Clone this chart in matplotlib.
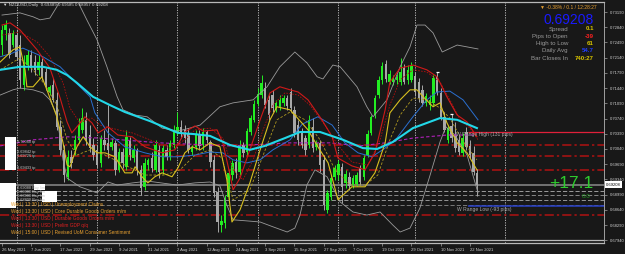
import numpy as np
import matplotlib.pyplot as plt
import matplotlib.patches as mpatches

plt.rcParams['font.family'] = ['Liberation Sans', 'DejaVu Sans']

# daily candles NZDUSD, 26 May 2021 .. 24 Nov 2021
opens = [0.7243, 0.7278, 0.7271, 0.7243, 0.7266, 0.7243, 0.7151, 0.7197, 0.7220, 0.7204,
         0.7186, 0.7204, 0.7181, 0.7135, 0.7151, 0.7117, 0.7055, 0.7002, 0.6940, 0.6986,
         0.7002, 0.7025, 0.7048, 0.7071, 0.7036, 0.7013, 0.7002, 0.6972, 0.7025, 0.7018,
         0.7009, 0.7018, 0.6956, 0.6997, 0.6963, 0.7025, 0.6983, 0.7002, 0.6956, 0.6917,
         0.6967, 0.6983, 0.6956, 0.7002, 0.6956, 0.7002, 0.6986, 0.7013, 0.7043, 0.7055,
         0.7048, 0.7041, 0.6997, 0.7009, 0.7036, 0.7013, 0.7043, 0.7020, 0.6979, 0.6905,
         0.6829, 0.6834, 0.6894, 0.6944, 0.6974, 0.6951, 0.7013, 0.6997, 0.7043, 0.7071,
         0.7107, 0.7128, 0.7144, 0.7117, 0.7128, 0.7094, 0.7098, 0.7110, 0.7121, 0.7135,
         0.7094, 0.7059, 0.7043, 0.7029, 0.7013, 0.7055, 0.7009, 0.7018, 0.6979, 0.6864,
         0.6894, 0.6940, 0.6944, 0.6963, 0.6926, 0.6940, 0.6921, 0.6923, 0.6960, 0.6940,
         0.6990, 0.7041, 0.7082, 0.7128, 0.7163, 0.7199, 0.7158, 0.7158, 0.7163, 0.7158,
         0.7190, 0.7163, 0.7163, 0.7172, 0.7158, 0.7140, 0.7110, 0.7105, 0.7110, 0.7172,
         0.7133, 0.7078, 0.7025, 0.7057, 0.7036, 0.7025, 0.6995, 0.7043, 0.7011, 0.6995,
         0.69489]
highs = [0.7289, 0.7301, 0.7282, 0.7278, 0.7278, 0.7266, 0.7220, 0.7232, 0.7232, 0.7220,
         0.7220, 0.7213, 0.7190, 0.7151, 0.7167, 0.7135, 0.7071, 0.7013, 0.7002, 0.7002,
         0.7036, 0.7075, 0.7098, 0.7089, 0.7059, 0.7029, 0.7013, 0.7036, 0.7048, 0.7105,
         0.7029, 0.7025, 0.7006, 0.7006, 0.7048, 0.7032, 0.7013, 0.7006, 0.6967, 0.6983,
         0.6983, 0.6997, 0.7025, 0.7013, 0.7013, 0.7013, 0.7025, 0.7059, 0.7089, 0.7071,
         0.7059, 0.7052, 0.7013, 0.7048, 0.7048, 0.7052, 0.7048, 0.7025, 0.6990, 0.6917,
         0.6852, 0.6898, 0.6956, 0.6979, 0.6983, 0.7025, 0.7020, 0.7052, 0.7082, 0.7117,
         0.7144, 0.7174, 0.7158, 0.7128, 0.7140, 0.7117, 0.7128, 0.7128, 0.7128, 0.7144,
         0.7103, 0.7071, 0.7052, 0.7036, 0.7082, 0.7075, 0.7025, 0.7025, 0.6990, 0.6910,
         0.6944, 0.6967, 0.6979, 0.6972, 0.6956, 0.6951, 0.6944, 0.6951, 0.6967, 0.6990,
         0.7048, 0.7082, 0.7128, 0.7172, 0.7204, 0.7209, 0.7186, 0.7174, 0.7176, 0.7213,
         0.7199, 0.7197, 0.7204, 0.7181, 0.7167, 0.7151, 0.7133, 0.7128, 0.7174, 0.7181,
         0.7144, 0.7089, 0.7057, 0.7084, 0.7066, 0.7036, 0.7041, 0.7055, 0.7025, 0.7011,
         0.69585]
lows = [0.7220, 0.7255, 0.7213, 0.7239, 0.7209, 0.7144, 0.7140, 0.7186, 0.7181, 0.7174,
        0.7174, 0.7163, 0.7140, 0.7128, 0.7112, 0.7048, 0.6990, 0.6928, 0.6933, 0.6960,
        0.6990, 0.7018, 0.7041, 0.7013, 0.6997, 0.6979, 0.6960, 0.6963, 0.7002, 0.6983,
        0.7002, 0.6944, 0.6951, 0.6960, 0.6956, 0.6979, 0.6974, 0.6944, 0.6898, 0.6910,
        0.6956, 0.6951, 0.6951, 0.6937, 0.6946, 0.6979, 0.6979, 0.7006, 0.7036, 0.7029,
        0.7018, 0.6995, 0.6990, 0.7002, 0.7002, 0.7002, 0.7018, 0.6963, 0.6894, 0.6813,
        0.6813, 0.6822, 0.6887, 0.6933, 0.6937, 0.6944, 0.6986, 0.6990, 0.7036, 0.7066,
        0.7103, 0.7121, 0.7098, 0.7071, 0.7089, 0.7089, 0.7094, 0.7103, 0.7094, 0.7089,
        0.7032, 0.7013, 0.7006, 0.6990, 0.7006, 0.6997, 0.7002, 0.6951, 0.6864, 0.6857,
        0.6887, 0.6933, 0.6933, 0.6880, 0.6914, 0.6910, 0.6914, 0.6919, 0.6921, 0.6933,
        0.6986, 0.7036, 0.7075, 0.7121, 0.7153, 0.7158, 0.7153, 0.7151, 0.7153, 0.7151,
        0.7153, 0.7153, 0.7158, 0.7126, 0.7112, 0.7103, 0.7103, 0.7094, 0.7103, 0.7128,
        0.7071, 0.7043, 0.7018, 0.7020, 0.6997, 0.6990, 0.6988, 0.7002, 0.6983, 0.6944,
        0.68957]
closes = [0.7278, 0.7289, 0.7220, 0.7271, 0.7216, 0.7163, 0.7197, 0.7220, 0.7190, 0.7186,
          0.7204, 0.7170, 0.7147, 0.7147, 0.7117, 0.7055, 0.7002, 0.6944, 0.6986, 0.6972,
          0.7025, 0.7059, 0.7075, 0.7025, 0.7006, 0.6990, 0.6967, 0.7029, 0.7013, 0.7002,
          0.7020, 0.6956, 0.6997, 0.6972, 0.7032, 0.6990, 0.7002, 0.6956, 0.6914, 0.6972,
          0.6979, 0.6960, 0.7013, 0.6951, 0.7006, 0.6986, 0.7018, 0.7048, 0.7055, 0.7043,
          0.7029, 0.7002, 0.7009, 0.7036, 0.7011, 0.7043, 0.7025, 0.6974, 0.6903, 0.6836,
          0.6838, 0.6891, 0.6949, 0.6972, 0.6949, 0.7013, 0.6995, 0.7045, 0.7075, 0.7107,
          0.7130, 0.7156, 0.7105, 0.7082, 0.7098, 0.7110, 0.7117, 0.7121, 0.7103, 0.7098,
          0.7041, 0.7025, 0.7013, 0.7002, 0.7071, 0.7006, 0.7018, 0.6967, 0.6875, 0.6903,
          0.6937, 0.6960, 0.6969, 0.6917, 0.6946, 0.6919, 0.6937, 0.6944, 0.6928, 0.6983,
          0.7038, 0.7078, 0.7121, 0.7163, 0.7195, 0.7165, 0.7176, 0.7167, 0.7170, 0.7181,
          0.7158, 0.7186, 0.7195, 0.7135, 0.7121, 0.7110, 0.7126, 0.7117, 0.7167, 0.7135,
          0.7078, 0.7048, 0.7052, 0.7029, 0.7006, 0.6997, 0.7029, 0.7009, 0.6990, 0.6950,
          0.69208]

date_idx = [0, 8, 16, 24, 32, 40, 48, 56, 64, 72, 80, 88, 96, 104, 112, 120, 128]
date_labels = ['26 May 2021', '7 Jun 2021', '17 Jun 2021', '29 Jun 2021', '9 Jul 2021',
               '21 Jul 2021', '2 Aug 2021', '12 Aug 2021', '24 Aug 2021', '3 Sep 2021',
               '15 Sep 2021', '27 Sep 2021', '7 Oct 2021', '19 Oct 2021', '29 Oct 2021',
               '10 Nov 2021', '22 Nov 2021']
month_sep_idx = [4, 26, 48, 70, 92, 113, 137.5]

price_ticks = [0.7319, 0.7284, 0.7249, 0.7214, 0.7179, 0.7144, 0.7109, 0.7074,
               0.7039, 0.7004, 0.6969, 0.6934, 0.6899, 0.6864, 0.6829, 0.6794]

# indicator lines, sampled along the chart (bar index, price)
bb_up_x = [0.0, 4.9, 8.5, 10.4, 13.1, 15.0, 16.4, 18.1, 20.5, 23.2, 26.0, 28.7, 31.5, 33.1,
           36.4, 39.7, 43.8, 48.1, 51.4, 54.2, 59.6, 63.2, 68.7, 72.5, 76.0, 80.1, 83.4,
           86.2, 87.8, 90.5, 92.5, 97.1, 99.8, 101.5, 105.3, 108.9, 111.6, 113.5, 115.7,
           117.9, 120.4, 124.5, 130.2]
bb_up_y = [0.7312, 0.7317, 0.7308, 0.7301, 0.7305, 0.7331, 0.7358, 0.7381, 0.7347, 0.7301,
           0.7255, 0.7193, 0.7124, 0.7094, 0.7082, 0.7078, 0.7052, 0.7045, 0.7052, 0.7059,
           0.7101, 0.7110, 0.7117, 0.7147, 0.7193, 0.7227, 0.7202, 0.7170, 0.7165, 0.7197,
           0.7193, 0.7147, 0.7101, 0.7078, 0.7117, 0.7193, 0.7239, 0.7289, 0.7289, 0.7271,
           0.7227, 0.7243, 0.7234]
bb_lo_x = [-0.5, 3.0, 4.9, 8.5, 11.2, 13.1, 15.0, 16.7, 17.8, 21.3, 26.0, 29.0, 31.5, 35.8,
           39.9, 47.9, 52.8, 56.9, 59.6, 61.5, 63.2, 67.8, 70.6, 74.1, 78.0, 80.1, 81.5,
           83.4, 85.6, 88.9, 92.5, 96.0, 99.8, 103.4, 106.9, 108.9, 111.6, 114.3, 117.1,
           119.8, 121.4, 123.9, 127.2, 130.2]
bb_lo_y = [0.7128, 0.7140, 0.7144, 0.7140, 0.7133, 0.7117, 0.7082, 0.6979, 0.6937, 0.6917,
           0.6903, 0.6928, 0.6921, 0.6926, 0.6930, 0.6921, 0.6926, 0.6928, 0.6919, 0.6875,
           0.6841, 0.6838, 0.6836, 0.6825, 0.6813, 0.6822, 0.6852, 0.6921, 0.6956, 0.6940,
           0.6882, 0.6859, 0.6852, 0.6859, 0.6829, 0.6813, 0.6822, 0.6868, 0.6944, 0.7020,
           0.7055, 0.7036, 0.6990, 0.6903]
cyan_x = [-0.5, 4.9, 11.2, 15.0, 17.8, 20.5, 24.9, 29.5, 33.6, 40.5, 48.1, 52.8, 56.9, 62.4,
          67.8, 71.9, 77.4, 81.5, 87.0, 93.3, 98.7, 102.6, 106.9, 112.4, 119.8, 124.5, 129.9]
cyan_y = [0.7186, 0.7193, 0.7193, 0.7186, 0.7174, 0.7156, 0.7124, 0.7105, 0.7089, 0.7068,
          0.7041, 0.7038, 0.7034, 0.7013, 0.7002, 0.7011, 0.7029, 0.7043, 0.7043, 0.7025,
          0.7006, 0.7004, 0.7020, 0.7052, 0.7075, 0.7071, 0.7052]
blue_x = [-0.5, 3.0, 5.7, 11.2, 15.9, 19.4, 24.1, 25.4, 29.0, 33.6, 39.1, 43.8, 48.1, 52.8,
          56.9, 60.4, 63.2, 67.0, 70.6, 74.1, 78.8, 82.1, 86.4, 90.3, 93.8, 97.4, 101.2,
          104.8, 108.0, 112.4, 116.2, 119.0, 122.5, 126.1, 130.2]
blue_y = [0.7216, 0.7225, 0.7236, 0.7216, 0.7193, 0.7163, 0.7124, 0.7087, 0.7041, 0.7009,
          0.6995, 0.6986, 0.6986, 0.6990, 0.6997, 0.6995, 0.6979, 0.6972, 0.6979, 0.7002,
          0.7025, 0.7061, 0.7078, 0.7059, 0.7018, 0.6995, 0.6986, 0.7006, 0.7029, 0.7078,
          0.7117, 0.7135, 0.7137, 0.7117, 0.7071]
red_x = [0.0, 2.2, 4.9, 9.6, 13.1, 15.9, 17.8, 19.1, 20.5, 22.7, 24.6, 26.3, 29.0, 31.7,
         35.6, 39.1, 43.8, 47.3, 50.0, 52.8, 55.0, 58.8, 60.4, 62.4, 63.2, 65.1, 67.8,
         70.6, 73.3, 76.0, 78.8, 81.0, 83.7, 87.5, 90.3, 91.9, 95.7, 99.3, 102.0, 104.8,
         106.1, 108.9, 112.4, 116.2, 119.0, 121.7, 124.5, 127.2, 129.9]
red_y = [0.7289, 0.7294, 0.7278, 0.7232, 0.7190, 0.7121, 0.7066, 0.7041, 0.7055, 0.7078,
         0.7064, 0.7041, 0.7055, 0.7036, 0.7032, 0.7009, 0.6995, 0.7002, 0.7043, 0.7057,
         0.7045, 0.7048, 0.7018, 0.6944, 0.6910, 0.6937, 0.7002, 0.7071, 0.7133, 0.7147,
         0.7140, 0.7135, 0.7117, 0.7071, 0.7032, 0.6983, 0.6965, 0.6956, 0.6995, 0.7094,
         0.7158, 0.7190, 0.7197, 0.7186, 0.7170, 0.7124, 0.7082, 0.7066, 0.7032]
red2_x = [0.0, 4.9, 9.6, 13.1, 16.7, 18.6, 21.3, 24.6, 26.8, 31.7, 35.6, 40.5, 46.0, 50.0,
          52.8, 56.9, 60.4, 63.2, 65.9, 68.7, 71.4, 74.1, 77.4, 81.0, 84.2, 88.3, 91.9,
          95.7, 100.1, 103.4, 106.1, 108.9, 112.4, 116.2, 119.8, 122.5, 125.3, 128.0, 130.2]
red2_y = [0.7266, 0.7273, 0.7250, 0.7216, 0.7156, 0.7098, 0.7064, 0.7075, 0.7059, 0.7048,
          0.7041, 0.7025, 0.7006, 0.7025, 0.7048, 0.7052, 0.7029, 0.6956, 0.6933, 0.6979,
          0.7048, 0.7105, 0.7133, 0.7128, 0.7105, 0.7059, 0.7013, 0.6974, 0.6967, 0.7025,
          0.7105, 0.7163, 0.7186, 0.7181, 0.7158, 0.7117, 0.7071, 0.7052, 0.7025]
yel_x = [-0.5, 3.0, 4.9, 6.3, 6.8, 8.5, 10.9, 12.6, 15.0, 16.7, 17.8, 18.6, 20.5, 22.2,
         24.1, 26.0, 28.2, 30.9, 33.6, 35.6, 36.4, 38.3, 39.9, 41.8, 43.8, 46.5, 48.1,
         50.0, 52.0, 54.2, 56.9, 59.6, 61.5, 62.9, 65.1, 67.8, 70.6, 73.3, 75.2, 78.8,
         83.7, 86.4, 89.2, 91.9, 95.7, 99.3, 102.0, 104.8, 106.1, 108.9, 111.6, 113.5,
         115.2, 117.9, 119.8, 121.7, 124.5, 127.2, 129.9]
yel_y = [0.7204, 0.7232, 0.7239, 0.7186, 0.7147, 0.7147, 0.7170, 0.7133, 0.7078, 0.7018,
         0.6967, 0.6963, 0.7009, 0.7032, 0.7009, 0.6995, 0.6995, 0.6986, 0.6949, 0.6949,
         0.6963, 0.6940, 0.6926, 0.6940, 0.6949, 0.6940, 0.6960, 0.6995, 0.7009, 0.7002,
         0.7018, 0.7009, 0.6933, 0.6836, 0.6864, 0.6926, 0.7002, 0.7071, 0.7101, 0.7094,
         0.7048, 0.7009, 0.6972, 0.6887, 0.6917, 0.6917, 0.6949, 0.7018, 0.7087, 0.7117,
         0.7140, 0.7140, 0.7124, 0.7101, 0.7110, 0.7064, 0.7018, 0.6995, 0.6956]
yel2_x = [-0.5, 4.9, 8.5, 11.8, 15.0, 17.8, 20.5, 24.1, 28.2, 33.6, 39.1, 44.6, 48.7, 52.8,
          56.9, 60.2, 63.2, 67.8, 72.5, 75.2, 78.8, 82.9, 87.0, 91.1, 95.2, 99.3, 102.8,
          106.1, 108.9, 112.4, 116.2, 119.8, 122.5, 125.8, 129.9]
yel2_y = [0.7186, 0.7213, 0.7186, 0.7151, 0.7105, 0.7025, 0.6990, 0.7002, 0.6990, 0.6967,
          0.6944, 0.6944, 0.6956, 0.6990, 0.7002, 0.6983, 0.6887, 0.6910, 0.7013, 0.7071,
          0.7089, 0.7071, 0.7025, 0.6956, 0.6921, 0.6921, 0.6944, 0.7025, 0.7082, 0.7121,
          0.7117, 0.7098, 0.7075, 0.7025, 0.6979]
mag_x = [-0.5, 8.5, 17.8, 26.8, 43.2, 62.4, 78.8, 89.7, 97.9, 104.8, 112.4, 121.7, 129.4]
mag_y = [0.7011, 0.7025, 0.7032, 0.7029, 0.7018, 0.7011, 0.7018, 0.7018, 0.7011, 0.7018,
         0.7029, 0.7036, 0.7036]

# horizontal levels
red_levels = [0.7013, 0.6988, 0.6956, 0.6852]
grey_levels = [0.6907, 0.6897, 0.6887, 0.6875]
last_price = 0.69208
range_high = 0.7044
range_low = 0.6872
range_start = 127.5

news_rows = ['Wed | 13:30 | USD | Unemployment Claims',
             'Wed | 13:30 | USD | Core Durable Goods Orders m/m',
             'Wed | 13:30 | USD | Durable Goods Orders m/m',
             'Wed | 13:30 | USD | Prelim GDP q/q',
             'Wed | 15:00 | USD | Revised UoM Consumer Sentiment']
news_colors = ['#e8a030', '#e8a030', '#e02020', '#e02020', '#e8a030']

info_labels = ['Spread', 'Pips to Open', 'High to Low', 'Daily Avg', 'Bar Closes In']
info_values = ['0.1', '-39', '61', '54.7', '740:27']
info_colors = ['#d8c400', '#ff2020', '#d8c400', '#2040ff', '#d8c400']

W, H = 625, 254
BG = '#181818'


def fx(px):
    return px / W


def fy(py):
    return 1 - py / H


fig = plt.figure(figsize=(W / 100, H / 100), dpi=100, facecolor=BG)
ax = fig.add_axes([0, fy(243), 604 / W, 241 / H], facecolor=BG)
ax.set_xlim(-0.547, 164.66)
ax.set_ylim(0.67877, 0.7342)

ax.spines['left'].set_visible(False)
for s in ['top', 'bottom']:
    ax.spines[s].set_color('#b8b8b8')
    ax.spines[s].set_linewidth(0.9)
ax.spines['right'].set_color('#a0a0a0')
ax.spines['right'].set_linewidth(0.7)

ax.yaxis.tick_right()
ax.set_yticks(price_ticks)
ax.set_yticklabels(['%.5f' % p for p in price_ticks])
ax.tick_params(axis='y', colors='#a0a0a0', labelcolor='#d0d0d0', labelsize=3,
               length=2, width=0.5, pad=2)
ax.set_xticks(date_idx)
ax.set_xticklabels(date_labels)
for t in ax.get_xticklabels():
    t.set_horizontalalignment('left')
ax.tick_params(axis='x', colors='#a0a0a0', labelcolor='#d0d0d0', labelsize=3,
               length=2, width=0.5, pad=1.5)

# month separators
for xs in month_sep_idx:
    ax.axvline(xs, color='#c8c8c8', lw=0.6, ls=(0, (1.5, 1.5)), zorder=1)

# horizontal lines
for lv in red_levels:
    ax.axhline(lv, color='#b01212', lw=1.1, ls=(0, (6, 2, 1.5, 2)), zorder=1)
for k, lv in enumerate(grey_levels):
    ax.axhline(lv, color=['#b0b0b0', '#989898', '#a8a8a8', '#888888'][k], lw=0.6,
               ls=(0, (5, 2.5)), zorder=1)
ax.axhline(last_price, color='#7a7a7a', lw=1.3, zorder=1)
ax.axhline(0.6795, color='#b8b8b8', lw=0.9, zorder=1)
ax.hlines(range_high, range_start, 164.66, color='#e0203a', lw=0.9, zorder=1)
ax.hlines(range_low, range_start, 164.66, color='#2840c8', lw=1.1, zorder=1)

# candles
o = np.array(opens)
h = np.array(highs)
l = np.array(lows)
c = np.array(closes)
x = np.arange(len(c))
up = c >= o
bull, bear = '#22ee22', '#a8a8a8'
ax.vlines(x[up], l[up], h[up], color=bull, lw=0.7, zorder=2)
ax.vlines(x[~up], l[~up], h[~up], color=bear, lw=0.7, zorder=2)
ax.bar(x, np.maximum(np.abs(c - o), 0.00006), bottom=np.minimum(o, c), width=0.66,
       color=np.where(up, bull, bear), lw=0, zorder=2)

# indicators
ax.plot(bb_up_x, bb_up_y, color='#9a9a9a', lw=0.6, zorder=3)
ax.plot(bb_lo_x, bb_lo_y, color='#9a9a9a', lw=0.6, zorder=3)
ax.plot(mag_x, mag_y, color='#b020b8', lw=0.8, ls=(0, (3, 2)), zorder=3)
ax.plot(yel2_x, yel2_y, color='#b09a20', lw=0.6, ls=(0, (3, 2)), zorder=3)
ax.plot(red2_x, red2_y, color='#b01010', lw=0.6, ls=(0, (2, 1.5)), zorder=3)
ax.plot(blue_x, blue_y, color='#2a6fd0', lw=0.7, zorder=3)
ax.plot(red_x, red_y, color='#d01818', lw=0.8, zorder=3)
ax.plot(yel_x, yel_y, color='#d8c020', lw=0.8, zorder=3)
ax.plot(cyan_x, cyan_y, color='#22d8e8', lw=1.5, zorder=3)

# fractal marks on two highs
ax.hlines([highs[119], highs[123]], [118.6, 122.6], [119.4, 123.4], color='white',
          lw=0.9, zorder=4)

# title
fig.text(fx(3), fy(5), '\u25bc NZDUSD,Daily  0.69489 0.69585 0.68957 0.69208',
         color='#d8d8d8', fontsize=3.2, va='center')

# info panel top right
fig.text(fx(597), fy(7), '\u25bc -0.38% / 0.1 / 12:28:27', color='#e8a030',
         fontsize=3.6, va='center', ha='right')
fig.text(fx(594), fy(20), '0.69208', color='#1a1aff', fontsize=10, va='center',
         ha='right')
for k, (lab, val, col) in enumerate(zip(info_labels, info_values, info_colors)):
    yy = 29 + k * 7.3
    fig.text(fx(568), fy(yy), lab, color='#9a9a9a', fontsize=4.4, va='center', ha='right')
    fig.text(fx(594), fy(yy), val, color=col, fontsize=4.4, va='center', ha='right',
             fontweight='bold')

# pips info
fig.text(fx(593), fy(183.5), '+17.1', color='#2ecc2e', fontsize=12.5, va='center',
         ha='right')
fig.text(fx(590), fy(196.5), '0.0', color='#1f9a1f', fontsize=4.5, va='center',
         ha='right')

# range labels
fig.text(fx(456), fy(134.5), 'W Range High (131 pips)', color='#a8a8a8', fontsize=3.6,
         va='center')
fig.text(fx(457), fy(210), 'W Range Low (-93 pips)', color='#a8a8a8', fontsize=3.6,
         va='center')

# last price box on the axis
fig.text(fx(606), fy(184.5), '%.5f' % last_price, color='black', fontsize=3,
         va='center', bbox=dict(facecolor='white', edgecolor='none', pad=0.9))

# left side order boxes
for (x0, y0, x1, y1) in [(5, 137, 16, 170), (0, 183, 16, 208), (34, 184, 45, 190),
                         (42, 191, 57, 202)]:
    fig.add_artist(mpatches.Rectangle((fx(x0), fy(y1)), (x1 - x0) / W, (y1 - y0) / H,
                                      transform=fig.transFigure, facecolor='white',
                                      edgecolor='none', zorder=5))
for yy, t in zip([142, 152, 156, 168], ['0.70068 tp', '0.69842 tp', '0.69726 tp',
                                        '0.69433 tp']):
    fig.text(fx(17), fy(yy), t, color='#c8c8c8', fontsize=2.8, va='center', zorder=6)
for yy, t in zip([188, 192, 196, 200], ['0.69088 Buy lim', '0.69000 Buy lim',
                                        '0.68900 Buy lim', '0.68800 Buy lim']):
    fig.text(fx(17), fy(yy), t, color='#c8c8c8', fontsize=2.8, va='center', zorder=6)

# news rows
for k, (row, col) in enumerate(zip(news_rows, news_colors)):
    fig.text(fx(11), fy(204.5 + k * 7), row, color=col, fontsize=3.4, va='center',
             zorder=6)

fig.savefig('out.png', dpi=100, facecolor=BG)
